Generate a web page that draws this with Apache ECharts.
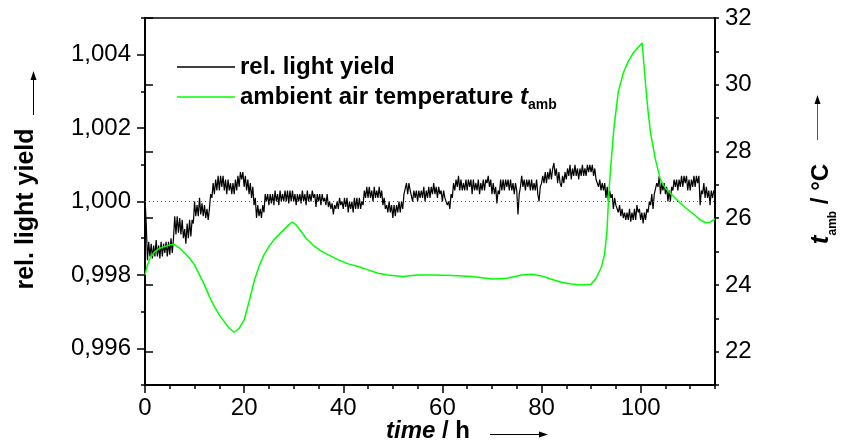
<!DOCTYPE html>
<html>
<head>
<meta charset="utf-8">
<script src="https://cdn.jsdelivr.net/npm/echarts@6/dist/echarts.min.js"></script>
<style>
html, body { margin: 0; padding: 0; background: #fff; }
#chart-box { width: 841px; height: 443px; }
</style>
</head>
<body>
<div id="chart-box"></div>
<script>
// rel. light yield, one reading every quarter hour from 0 h to 115 h
var lyStep = 0.25;
var lightYield = [
    1.0001, 0.9994, 0.9984, 0.9989, 0.9985, 0.99885, 0.99845, 0.9988, 0.9985, 0.99895, 0.9985, 0.9988, 0.99845, 0.9989, 0.9985, 0.99885, 0.9986, 0.9989, 0.9985, 0.9989,
    0.99855, 0.9990, 0.9986, 0.9990, 0.9996, 0.9991, 0.9996, 0.99915, 0.99955, 0.9991, 0.9995, 0.9990, 0.99925, 0.99885, 0.9994, 0.9990, 0.9995, 0.99905, 0.9995, 0.9994,
    1.0000, 0.9996, 0.9999, 0.9996, 1.0001, 0.99965, 0.99995, 0.9996, 0.9999, 0.99955, 0.9998, 0.9995, 0.9998, 1.0002, 1.0001, 1.0005, 1.0002, 1.0006, 1.0003, 1.0007,
    1.0003, 1.0007, 1.0004, 1.0007, 1.0003, 1.0006, 1.0002, 1.0006, 1.0003, 1.0005, 1.0002, 1.0005, 1.0002, 1.0006, 1.0003, 1.0007, 1.0004, 1.0008, 1.0006, 1.0008,
    1.0004, 1.0007, 1.0003, 1.0006, 1.0002, 1.0005, 1.0001, 1.0004, 0.9999, 1.0001, 0.99955, 0.9999, 0.9996, 0.9998, 0.99955, 0.9999, 0.9997, 1.0002, 1.0000, 1.0002,
    0.9999, 1.0002, 0.99995, 1.0002, 0.9999, 1.0003, 1.0000, 1.0002, 0.9999, 1.0003, 1.0000, 1.0002, 1.0000, 1.0003, 1.0000, 1.0003, 0.99995, 1.0003, 1.0000, 1.0003,
    1.0000, 1.0002, 0.9999, 1.0002, 1.0000, 1.0002, 0.99995, 1.0003, 1.0000, 1.0002, 0.9999, 1.0003, 1.0000, 1.0002, 1.0000, 1.0003, 1.0001, 1.0002, 0.99985, 1.0002,
    1.0000, 1.0002, 0.9999, 1.0002, 1.0000, 1.0001, 0.9999, 1.0002, 0.99985, 1.0000, 0.9998, 0.99995, 0.99965, 0.9999, 0.9998, 1.0000, 0.9998, 1.0001, 0.9999, 1.0000,
    0.9998, 1.0001, 0.99985, 1.0001, 0.9997, 1.0000, 0.9998, 1.0000, 0.9997, 1.0001, 0.9998, 1.0001, 0.9998, 1.0001, 0.9998, 1.0000, 0.9999, 1.0003, 1.0001, 1.0004,
    1.0001, 1.0004, 1.0001, 1.0003, 1.0000, 1.0004, 1.0001, 1.0003, 1.0001, 1.0004, 1.0001, 1.0003, 0.9999, 1.0001, 0.9998, 0.9999, 0.9997, 1.0000, 0.9997, 0.9999,
    0.99955, 0.9999, 0.9996, 0.9999, 0.9997, 1.0000, 0.9997, 1.0000, 0.9998, 1.0002, 1.0002, 1.0005, 1.0002, 1.0005, 1.0003, 1.0003, 1.0000, 1.0003, 1.0001, 1.0003,
    1.0000, 1.0003, 1.0001, 1.0003, 1.0001, 1.0004, 1.0000, 1.0003, 1.0001, 1.0004, 1.0001, 1.0004, 1.0002, 1.0005, 1.0002, 1.0004, 1.0001, 1.0004, 1.0002, 1.0003,
    1.0000, 1.0003, 1.0001, 1.0001, 0.9999, 1.0000, 0.9998, 1.0002, 1.0001, 1.0005, 1.0003, 1.0006, 1.0004, 1.0007, 1.0003, 1.0006, 1.0003, 1.0005, 1.0003, 1.0006,
    1.0003, 1.0006, 1.0004, 1.0006, 1.0002, 1.0006, 1.0003, 1.0005, 1.0003, 1.0006, 1.0002, 1.0005, 1.0003, 1.0006, 1.0003, 1.0006, 1.0005, 1.0007, 1.0004, 1.0006,
    1.0002, 1.0005, 1.0002, 1.0004, 0.99995, 1.0003, 1.0002, 1.0006, 1.0003, 1.0006, 1.0003, 1.0006, 1.0004, 1.0006, 1.0003, 1.0006, 1.0003, 1.0005, 1.0002, 1.0005,
    1.0003, 0.99965, 1.0002, 1.0004, 1.0007, 1.0004, 1.0006, 1.0003, 1.0006, 1.0004, 1.0006, 1.0003, 1.0006, 1.0003, 1.0005, 1.0003, 1.0006, 1.0002, 1.0000, 1.0004,
    1.0005, 1.0007, 1.0005, 1.0008, 1.0005, 1.0008, 1.0006, 1.0009, 1.0006, 1.0009, 1.00105, 1.0007, 1.0009, 1.0005, 1.0008, 1.0005, 1.0004, 1.0007, 1.0005, 1.0008,
    1.0006, 1.0009, 1.0007, 1.0010, 1.0006, 1.0009, 1.0007, 1.0010, 1.0007, 1.0009, 1.0006, 1.0009, 1.0007, 1.0010, 1.0007, 1.0009, 1.0007, 1.0010, 1.0008, 1.0010,
    1.0008, 1.0010, 1.0007, 1.0009, 1.0006, 1.0006, 1.0004, 1.0006, 1.0003, 1.0005, 1.0003, 1.0005, 1.0001, 1.0004, 1.0000, 1.0003, 1.0001, 1.0002, 0.9998, 1.0001,
    0.9999, 0.9999, 0.9997, 0.9999, 0.9996, 0.9998, 0.99955, 0.9997, 0.9995, 0.9997, 0.9995, 0.9998, 0.99945, 0.9997, 0.9995, 0.9998, 0.9995, 0.9999, 0.9997, 0.9998,
    0.9995, 0.9997, 0.9994, 0.9997, 0.9995, 0.9998, 0.9997, 1.0000, 0.9999, 1.0002, 0.9998, 1.0002, 1.0002, 1.0005, 1.0004, 1.0007, 1.0002, 1.0005, 1.0003, 1.0005,
    1.0002, 1.0004, 1.0000, 1.0003, 1.0000, 1.0004, 1.0003, 1.0006, 1.0004, 1.0006, 1.0003, 1.0006, 1.0004, 1.0007, 1.0004, 1.0007, 1.0005, 1.0007, 1.0003, 1.0006,
    1.0003, 1.0006, 1.0004, 1.0007, 1.0004, 1.0007, 1.0005, 1.0007, 0.9999, 1.0003, 1.0002, 1.0005, 1.0001, 1.0004, 1.0001, 1.0003, 0.9999, 1.0003, 1.0001, 1.0003,
    1.0002
];

// ambient air temperature t_amb in °C
var tempHours = [
    0, 0.5, 1, 2, 3, 4, 5, 6, 7, 8, 9, 10, 11, 12, 13, 14, 15, 16, 17, 18,
    19, 20, 21, 22, 23, 24, 25, 26, 27, 28, 29, 29.7, 30.5, 31.5, 32.5, 34, 35.5, 37, 39, 41,
    43, 45, 47, 49, 52, 55, 58, 62, 66, 70, 73, 76, 78, 80, 82, 84, 86, 88, 90, 91,
    92, 92.7, 93.2, 93.6, 94, 94.6, 95.5, 96.5, 97.5, 98.5, 99.5, 100.3, 101, 101.5, 102, 103, 104, 105, 106, 107,
    108, 109, 110, 111, 112, 113, 114, 115
];
var tempValues = [
    24.3, 24.6, 24.8, 25.0, 25.1, 25.15, 25.2, 25.2, 25.1, 24.95, 24.8, 24.6, 24.3, 24.0, 23.65, 23.35, 23.1, 22.9, 22.7, 22.58,
    22.7, 22.95, 23.5, 24.1, 24.55, 24.9, 25.15, 25.35, 25.5, 25.65, 25.8, 25.88, 25.8, 25.6, 25.4, 25.18, 25.02, 24.9, 24.75, 24.63,
    24.55, 24.45, 24.35, 24.3, 24.25, 24.3, 24.3, 24.28, 24.25, 24.18, 24.2, 24.3, 24.32, 24.27, 24.17, 24.08, 24.03, 24.0, 24.02, 24.2,
    24.5, 24.9, 25.6, 26.8, 27.6, 28.7, 29.8, 30.35, 30.7, 30.95, 31.12, 31.25, 30.0, 29.2, 28.55, 27.75, 27.15, 26.9, 26.75, 26.6,
    26.45, 26.32, 26.2, 26.08, 25.95, 25.87, 25.88, 25.98
];

var fontName = '"Liberation Sans", Arial, sans-serif';

var lyData = lightYield.map(function (v, i) { return [i * lyStep, v]; });
var tempData = tempHours.map(function (h, i) { return [h, tempValues[i]]; });

// rich styles: normal bold text, bold italic t, subscript amb
var legendRich = {
    n: { fontFamily: fontName, fontWeight: 'bold', fontSize: 24, lineHeight: 30, color: '#000' },
    t: { fontFamily: fontName, fontWeight: 'bold', fontStyle: 'italic', fontSize: 24, lineHeight: 30, color: '#000' },
    s: { fontFamily: fontName, fontWeight: 'bold', fontSize: 14, lineHeight: 14, padding: [16, 0, 0, 0], color: '#000' }
};
var titleRich = {
    n: { fontFamily: fontName, fontWeight: 'bold', fontSize: 24, lineHeight: 36, color: '#000' },
    t: { fontFamily: fontName, fontWeight: 'bold', fontStyle: 'italic', fontSize: 26, lineHeight: 36, color: '#000' },
    s: { fontFamily: fontName, fontWeight: 'bold', fontSize: 12, lineHeight: 12, padding: [24, 0, 0, 0], color: '#000' }
};
var xTitleRich = {
    n: { fontFamily: fontName, fontWeight: 'bold', fontSize: 24, lineHeight: 26, color: '#000' },
    t: { fontFamily: fontName, fontWeight: 'bold', fontStyle: 'italic', fontSize: 24, lineHeight: 26, color: '#000' }
};

var tickMinor = { show: true, inside: false, length: 4, lineStyle: { color: '#000', width: 1.5 } };
var tickMajor = { show: true, inside: false, length: 8, lineStyle: { color: '#000', width: 1.5 } };
var axisLineStyle = { show: true, lineStyle: { color: '#000', width: 2 } };
var labelStyle = { fontFamily: fontName, fontSize: 24, color: '#000' };

var option = {
    animation: false,
    backgroundColor: '#fff',
    grid: [
        // main plot
        { left: 145, top: 18, width: 570, height: 367, show: true, borderColor: '#000', borderWidth: 1.5 },
        // long ticks for 0..100 h
        { left: 145, top: 18, width: 495.65, height: 367 },
        // long ticks for 0,996..1,004
        { left: 145, top: 54.7, width: 570, height: 293.6 },
        // long ticks for 22..32 °C
        { left: 145, top: 18, width: 570, height: 333.64 }
    ],
    xAxis: [
        {
            gridIndex: 0, type: 'value', min: 0, max: 115, interval: 5,
            axisLine: axisLineStyle, axisTick: tickMinor, splitLine: { show: false },
            axisLabel: Object.assign({
                margin: 11,
                formatter: function (v) { return Math.round(v) % 20 === 0 ? String(Math.round(v)) : ''; }
            }, labelStyle)
        },
        {
            gridIndex: 1, type: 'value', min: 0, max: 100, interval: 20,
            axisLine: { show: false }, axisTick: tickMajor, axisLabel: { show: false }, splitLine: { show: false }
        },
        { gridIndex: 2, type: 'value', show: false },
        { gridIndex: 3, type: 'value', show: false }
    ],
    yAxis: [
        {
            gridIndex: 0, type: 'value', position: 'left', min: 0.995, max: 1.005, interval: 0.001,
            axisLine: axisLineStyle, axisTick: tickMinor, splitLine: { show: false },
            axisLabel: Object.assign({
                margin: 14,
                formatter: function (v) {
                    var k = Math.round(v * 1000);
                    return k % 2 === 0 ? (k / 1000).toFixed(3).replace('.', ',') : '';
                }
            }, labelStyle)
        },
        {
            gridIndex: 0, type: 'value', position: 'right', min: 21, max: 32, interval: 1,
            axisLine: axisLineStyle, axisTick: tickMinor, splitLine: { show: false },
            axisLabel: Object.assign({
                margin: 10,
                formatter: function (v) { return Math.round(v) % 2 === 0 ? String(Math.round(v)) : ''; }
            }, labelStyle)
        },
        { gridIndex: 1, type: 'value', show: false },
        {
            gridIndex: 2, type: 'value', position: 'left', min: 0.996, max: 1.004, interval: 0.002,
            axisLine: { show: false }, axisTick: tickMajor, axisLabel: { show: false }, splitLine: { show: false }
        },
        {
            gridIndex: 3, type: 'value', position: 'right', min: 22, max: 32, interval: 2,
            axisLine: { show: false }, axisTick: tickMajor, axisLabel: { show: false }, splitLine: { show: false }
        }
    ],
    legend: {
        orient: 'vertical',
        left: 172,
        top: 47,
        icon: 'rect',
        itemWidth: 58,
        itemHeight: 1.4,
        itemGap: 0,
        data: ['rel. light yield', 'ambient air temperature'],
        textStyle: { fontFamily: fontName, fontWeight: 'bold', fontSize: 24, lineHeight: 30, color: '#000', rich: legendRich },
        formatter: function (name) {
            if (name === 'ambient air temperature') {
                return '{n|ambient air temperature }{t|t}{s|amb}';
            }
            return '{n|' + name + '}';
        }
    },
    graphic: [
        {
            type: 'text', x: 26, y: 209, rotation: Math.PI / 2,
            style: { text: 'rel. light yield', font: 'bold 25px ' + fontName, fill: '#000', align: 'center', verticalAlign: 'middle' }
        },
        { type: 'line', shape: { x1: 33.5, y1: 115, x2: 33.5, y2: 78 }, style: { stroke: '#000', lineWidth: 1 } },
        { type: 'polygon', shape: { points: [[33.5, 71], [30.5, 80], [36.5, 80]] }, style: { fill: '#000' } },
        {
            type: 'text', x: 821, y: 204, rotation: Math.PI / 2,
            style: { text: '{t|t}{s|amb}{n| / °C}', rich: titleRich, align: 'center', verticalAlign: 'middle' }
        },
        { type: 'line', shape: { x1: 817.5, y1: 140, x2: 817.5, y2: 102 }, style: { stroke: '#555', lineWidth: 1 } },
        { type: 'polygon', shape: { points: [[817.5, 95], [814.5, 104], [820.5, 104]] }, style: { fill: '#000' } },
        {
            type: 'text', x: 428, y: 431,
            style: { text: '{t|time}{n| / h}', rich: xTitleRich, align: 'center', verticalAlign: 'middle' }
        },
        { type: 'line', shape: { x1: 490, y1: 434.5, x2: 540, y2: 434.5 }, style: { stroke: '#000', lineWidth: 1 } },
        { type: 'polygon', shape: { points: [[548, 434.5], [539, 431.5], [539, 437.5]] }, style: { fill: '#000' } }
    ],
    series: [
        {
            name: 'rel. light yield',
            type: 'line',
            xAxisIndex: 0,
            yAxisIndex: 0,
            data: lyData,
            symbol: 'none',
            showSymbol: false,
            lineStyle: { color: '#000', width: 1.2 },
            itemStyle: { color: '#000' },
            z: 3,
            markLine: {
                silent: true,
                symbol: 'none',
                label: { show: false },
                lineStyle: { color: '#555', width: 1, type: [1, 3] },
                data: [{ yAxis: 1.0 }]
            }
        },
        {
            name: 'ambient air temperature',
            type: 'line',
            xAxisIndex: 0,
            yAxisIndex: 1,
            data: tempData,
            symbol: 'none',
            showSymbol: false,
            lineStyle: { color: '#00ff00', width: 1.5 },
            itemStyle: { color: '#00ff00' },
            z: 4
        }
    ]
};

var myChart = echarts.init(document.getElementById('chart-box'));
myChart.setOption(option);
</script>
</body>
</html>
